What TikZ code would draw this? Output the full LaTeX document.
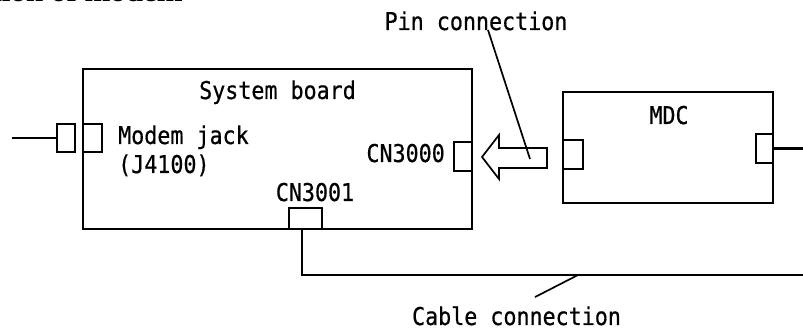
\documentclass[tikz,border=0pt]{standalone}
\usepackage{fontspec}
\usetikzlibrary{calc}
\newfontfamily\gothic[FakeStretch=0.885, FakeBold=0.6]{DejaVu Sans Mono}
\newfontfamily\capserif{Liberation Serif}
\newcommand{\lblfont}{\gothic\fontsize{24.5}{29}\selectfont}
\newcommand{\capfont}{\capserif\bfseries\fontsize{31}{36}\selectfont}
\tikzset{
  brd/.style={draw, line width=2.2pt, inner sep=0pt},
  con/.style={draw, line width=2.2pt, fill=white, inner sep=0pt},
  lbl/.style={font=\lblfont, inner sep=0pt},
  ln/.style={line width=2.2pt},
  lead/.style={line width=1.7pt},
}
\begin{document}
\begin{tikzpicture}[x=1pt, y=1pt]
    \useasboundingbox (0,0) rectangle (803,329);
    \node[anchor=base east, font=\capfont, inner sep=0pt] (cap) at (183,327.5) {tion of modem};
    \node[brd, minimum width=389, minimum height=160] (board) at (277.5,180) {};
    \node[lbl, anchor=base] (boardlbl) at (277.5,230) {System board};
    \node[con, minimum width=18, minimum height=28] (jackout) at (66,191) {};
    \node[con, minimum width=19, minimum height=28] (jackin) at (92.5,191) {};
    \coordinate (phone) at (12,191);
    \draw[ln] (phone) -- (jackout.west);
    \node[lbl, anchor=base west, align=left] (jacklbl) at (118,156) {Modem jack\\(J4100)};
    \node[con, minimum width=18, minimum height=29] (cn3000) at (463,172.5) {};
    \node[lbl, anchor=base east] (cn3000lbl) at (445,167) {CN3000};
    \node[con, minimum width=33, minimum height=21] (cn3001) at (305.5,110.5) {};
    \node[lbl, anchor=base] (cn3001lbl) at (315,128) {CN3001};
    \node[brd, minimum width=210, minimum height=111] (mdc) at (668,181.5) {};
    \node[lbl, anchor=base] (mdclbl) at (669,205) {MDC};
    \node[con, minimum width=20, minimum height=29] (mdcl) at (573,174.5) {};
    \node[con, minimum width=17, minimum height=29] (mdcr) at (764.5,180.5) {};
    \coordinate (mdcout) at (803,180.5);
    \draw[ln] (mdcr.east) -- (mdcout);
    \draw[lead, line join=miter] (482,172) -- (499,194) -- (499,181) -- (547,181) -- (547,161) -- (499,161) -- (499,150) -- cycle;
    \coordinate (pinhit) at (530,170);
    \node[lbl, anchor=base] (pinlbl) at (476,299) {Pin connection};
    \draw[lead] ($(pinlbl.base)+(12,0)$) -- (pinhit);
    \coordinate (cableend) at (803,54);
    \draw[ln] (cn3001.south) ++(-3.5,0) |- (cableend);
    \coordinate (cabhit) at (578,54);
    \node[lbl, anchor=base] (cablelbl) at (516.5,4) {Cable connection};
    \draw[lead] (cabhit) -- ($(cablelbl.north)+(18.5,9)$);
  \end{tikzpicture}
\end{document}
